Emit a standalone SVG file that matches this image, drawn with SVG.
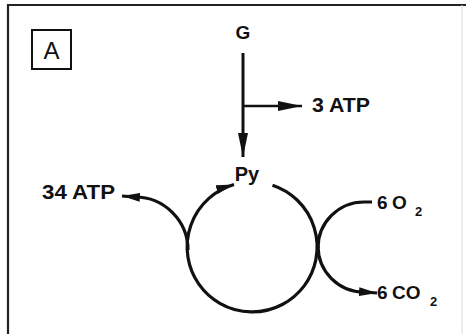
<svg xmlns="http://www.w3.org/2000/svg" width="466" height="334" viewBox="0 0 466 334">
<style>
.t{font-family:"Liberation Sans",Arial,sans-serif;font-weight:bold;fill:#111}
.ln{fill:none;stroke:#111;stroke-linecap:butt}
</style>
<defs>
<marker id="big" markerUnits="userSpaceOnUse" markerWidth="24" markerHeight="10" refX="24" refY="5" orient="auto">
<path d="M0,0 L24,5 L0,10 z" fill="#111"/>
</marker>
<marker id="sm" markerUnits="userSpaceOnUse" markerWidth="18" markerHeight="9" refX="18" refY="4.5" orient="auto">
<path d="M0,0 L18,4.5 L0,9 z" fill="#111"/>
</marker>
</defs>
<rect width="466" height="334" fill="#fff"/>
<g id="frame">
<path d="M8,334 L8,5 L466,5" fill="none" stroke="#222" stroke-width="2.2"/>
<path d="M462,5 L462,334" fill="none" stroke="#ddd" stroke-width="1"/>
</g>
<g id="label-A">
<rect x="32" y="30" width="39" height="39" fill="none" stroke="#111" stroke-width="2"/>
<text x="51.5" y="59" text-anchor="middle" font-family="Liberation Sans,Arial,sans-serif" font-size="24" fill="#111">A</text>
</g>
<g id="node-G"><text class="t" x="243" y="39" font-size="19" text-anchor="middle">G</text></g>
<g id="node-3ATP"><text class="t" x="312" y="112" font-size="20" textLength="58" lengthAdjust="spacingAndGlyphs">3 ATP</text></g>
<g id="node-Py"><text class="t" x="247" y="181" font-size="20" text-anchor="middle">Py</text></g>
<g id="node-34ATP"><text class="t" x="42" y="199" font-size="20" textLength="73" lengthAdjust="spacingAndGlyphs">34 ATP</text></g>
<g id="node-O2"><text class="t" x="377" y="209" font-size="19">6<tspan x="392">O</tspan><tspan x="415" y="216" font-size="13">2</tspan></text></g>
<g id="node-CO2"><text class="t" x="377" y="299" font-size="19">6<tspan x="392">CO</tspan><tspan x="430" y="306" font-size="13">2</tspan></text></g>
<g id="connectors">
<path class="ln" d="M243,53 L243,157" stroke-width="3" marker-end="url(#big)"/>
<path class="ln" d="M243,106 L302,106" stroke-width="2.5" marker-end="url(#big)"/>
<path class="ln" d="M272.5,185.2 A65,65 0 1 1 234,184.5" stroke-width="3.2" marker-end="url(#sm)"/>
<path class="ln" d="M188,250 A53,53 0 0 0 135,197 L122,196" stroke-width="3.2" marker-end="url(#sm)"/>
<path class="ln" d="M318,248 A46,46 0 0 1 364,202 L372,202" stroke-width="3.2"/>
<path class="ln" d="M318,246 A46,46 0 0 0 364,292 L377,293" stroke-width="3.2" marker-end="url(#sm)"/>
</g>
</svg>
